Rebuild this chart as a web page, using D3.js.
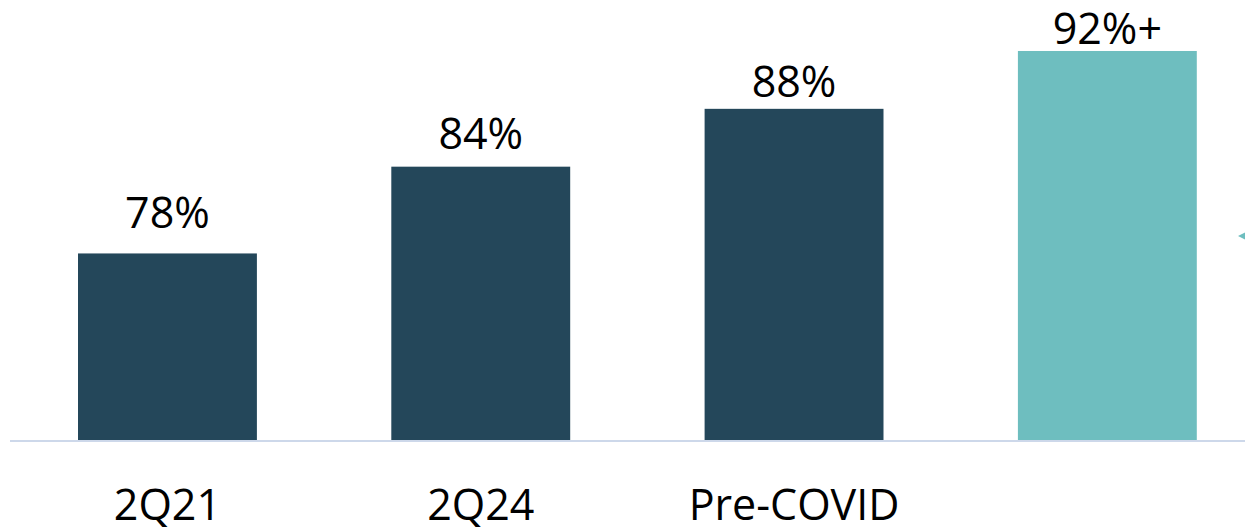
<!DOCTYPE html>
<html>
<head>
<meta charset="utf-8">
<script src="https://cdn.jsdelivr.net/npm/d3@7"></script>
<style>
  html, body { margin: 0; padding: 0; background: #ffffff; }
  svg { display: block; }
  text { font-family: "Open Sans", "Noto Sans", sans-serif; fill: #000; }
</style>
</head>
<body>
<svg id="chart" width="1245" height="528"></svg>
<script>
const categories = ["2Q21", "2Q24", "Pre-COVID", ""];
const values = [78, 84, 88, 92];
const valueLabels = ["78%", "84%", "88%", "92%+"];
const barColors = ["#24475a", "#24475a", "#24475a", "#6ebebf"];

const W = 1245, H = 528;
const svg = d3.select("#chart");

const x = d3.scaleBand()
  .domain(categories.map((c, i) => i))
  .range([10.8, 1264])
  .paddingInner(0.429)
  .paddingOuter(0.2145);

const y = d3.scaleLinear().domain([65.1, 95]).range([440, 7.6]);
// label placement scale (labels sit a bit closer to taller bars)
const yLabel = d3.scaleLinear().domain([78, 92]).range([228, 44]);

// bars
svg.append("g").selectAll("rect")
  .data(values)
  .join("rect")
  .attr("x", (d, i) => x(i))
  .attr("width", x.bandwidth())
  .attr("y", d => y(d))
  .attr("height", d => y.range()[0] - y(d))
  .attr("fill", (d, i) => barColors[i]);

// baseline axis
svg.append("line")
  .attr("x1", 10).attr("x2", W)
  .attr("y1", 441).attr("y2", 441)
  .attr("stroke", "#cdd8ea")
  .attr("stroke-width", 2);

// value labels
svg.append("g").selectAll("text")
  .data(values)
  .join("text")
  .attr("x", (d, i) => x(i) + x.bandwidth() / 2)
  .attr("y", d => yLabel(d))
  .attr("text-anchor", "middle")
  .style("font-size", "43px")
  .text((d, i) => valueLabels[i]);

// category labels
svg.append("g").selectAll("text")
  .data(categories)
  .join("text")
  .attr("x", (d, i) => x(i) + x.bandwidth() / 2)
  .attr("y", 520)
  .attr("text-anchor", "middle")
  .style("font-size", "43px")
  .text(d => d);

// small decorative marker at the right edge
svg.append("path")
  .attr("d", "M1238,236 L1246,232 L1246,240 Z")
  .attr("fill", "#6ebebf");
</script>
</body>
</html>
